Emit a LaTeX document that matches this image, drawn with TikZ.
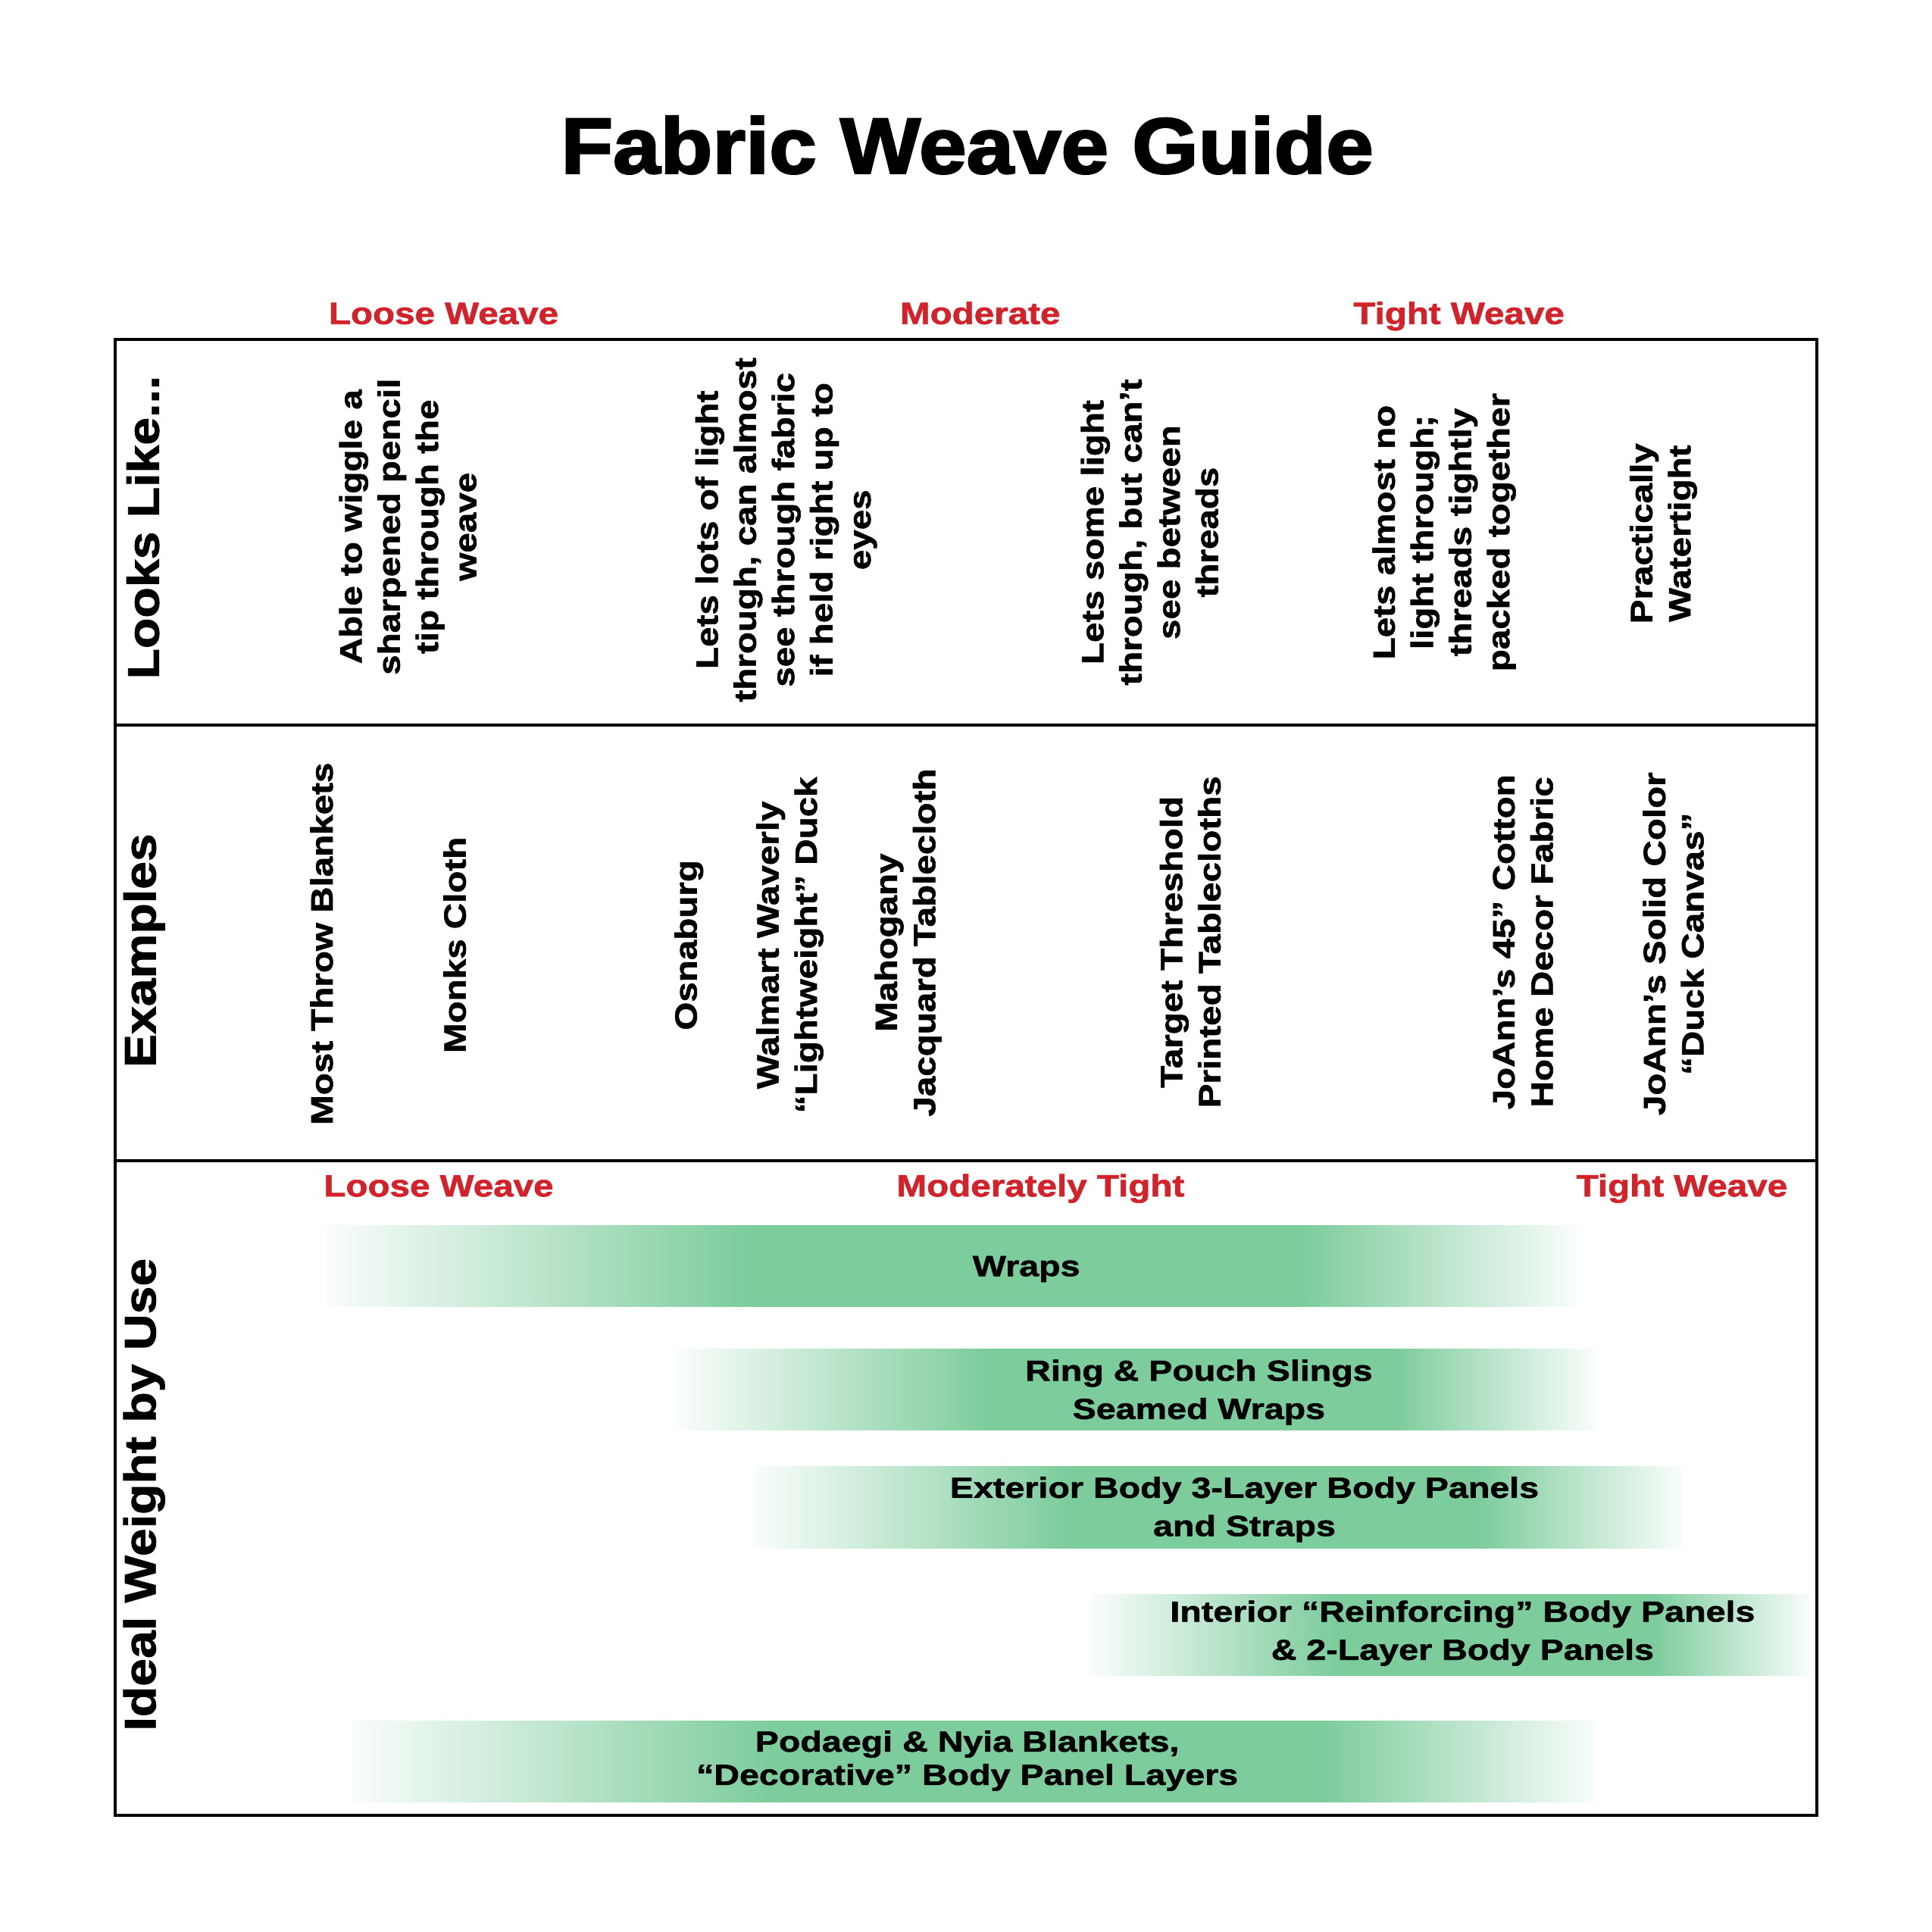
\documentclass[tikz,border=0pt]{standalone}
\usepackage{fontspec}
\setmainfont{Liberation Sans}
\newfontfamily\titlefont{Liberation Sans}[FakeStretch=1.08,FakeBold=2.5]
\newfontfamily\txtfont{Liberation Sans}[FakeStretch=1.17,FakeBold=1.5]
\newfontfamily\rowfont{Liberation Sans}[FakeStretch=1.13,FakeBold=1.5]
\newfontfamily\barfont{Liberation Sans}[FakeStretch=1.22,FakeBold=1.5]
\definecolor{hdrred}{RGB}{211,34,42}
\definecolor{bargreen}{RGB}{124,204,156}
\pgfdeclarehorizontalshading{barfade}{100bp}{color(0bp)=(white); color(25bp)=(bargreen!4); color(42bp)=(bargreen); color(64bp)=(bargreen); color(75bp)=(bargreen!4); color(100bp)=(white)}
\begin{document}
\begin{tikzpicture}[x=1pt,y=-1pt,
  titlest/.style={anchor=base, inner sep=0, font=\titlefont\bfseries\fontsize{64}{70}\selectfont},
  hdr/.style={anchor=base, inner sep=0, text=hdrred, font=\txtfont\bfseries\fontsize{25}{30}\selectfont},
  rot/.style={rotate=90, align=center, inner sep=0, font=\txtfont\bfseries\fontsize{25}{31}\selectfont},
  rowlab/.style={rotate=90, inner sep=0, font=\rowfont\bfseries\fontsize{36}{40}\selectfont},
  barbox/.style={shading=barfade, draw=none, minimum height=66pt, inner sep=0},
  bartxt/.style={align=center, inner sep=0, font=\barfont\bfseries\fontsize{23.5}{31}\selectfont},
  rule/.style={line width=2.5pt}]
\useasboundingbox (0,0) rectangle (1568,1568);
\fill[white] (0,0) rectangle (1568,1568);

% title
\node[titlest] (title) at (785,140.6) {Fabric Weave Guide};

% top headers
\node[hdr] (h1a) at (360,263) {Loose Weave};
\node[hdr] (h1b) at (795.5,263) {Moderate};
\node[hdr] (h1c) at (1184,263) {Tight Weave};

% bars (drawn first)
\node[barbox, minimum width=1015pt] (bar1) at (772.5,1027.4) {};
\node[barbox, minimum width=745pt] (bar2) at (922.5,1127.7) {};
\node[barbox, minimum width=753pt] (bar3) at (988.5,1223.3) {};
\node[barbox, minimum width=585pt] (bar4) at (1177.5,1326.8) {};
\node[barbox, minimum width=1010pt] (bar5) at (790,1429.5) {};

% table frame
\coordinate (tl) at (93.5,275.5);
\coordinate (br) at (1474.5,1473);
\coordinate (d1l) at (93.5,588.5);
\coordinate (d1r) at (1474.5,588.5);
\coordinate (d2l) at (93.5,942);
\coordinate (d2r) at (1474.5,942);
\draw[rule] (tl) rectangle (br);
\draw[rule] (d1l) -- (d1r);
\draw[rule] (d2l) -- (d2r);

% row labels
\node[rowlab] (lab1) at (116,428) {Looks Like...};
\node[rowlab] (lab2) at (117,771.5) {Examples};
\node[rowlab] (lab3) at (117,1213) {Ideal Weight by Use};

% row 1
\node[rot] (l1) at (331,427.5) {Able to wiggle a\\sharpened pencil\\tip through the\\weave};
\node[rot] (l2) at (638,430) {Lets lots of light\\through, can almost\\see through fabric\\if held right up to\\eyes};
\node[rot] (l3) at (933,432) {Lets some light\\through, but can’t\\see between\\threads};
\node[rot] (l4) at (1172,432) {Lets almost no\\light through;\\threads tightly\\packed together};
\node[rot] (l5) at (1350,433) {Practically\\Watertight};

% row 2
\node[rot] (e1) at (261,766) {Most Throw Blankets};
\node[rot] (e2) at (369,767) {Monks Cloth};
\node[rot] (e3) at (559,767) {Osnaburg};
\node[rot] (e4) at (641,767) {Walmart Waverly\\“Lightweight” Duck};
\node[rot] (e5) at (737,765) {Mahogany\\Jacquard Tablecloth};
\node[rot] (e6) at (966,764.5) {Target Threshold\\Printed Tablecloths};
\node[rot] (e7) at (1236,764.5) {JoAnn’s 45” Cotton\\Home Decor Fabric};
\node[rot] (e8) at (1358,766) {JoAnn’s Solid Color\\“Duck Canvas”};

% row 3 headers
\node[hdr] (h3a) at (356,971) {Loose Weave};
\node[hdr] (h3b) at (844.5,971) {Moderately Tight};
\node[hdr] (h3c) at (1365,971) {Tight Weave};

% bar texts
\node[bartxt] (t1) at (833,1030) {Wraps};
\node[bartxt] (t2) at (973,1130) {Ring \& Pouch Slings\\Seamed Wraps};
\node[bartxt] (t3) at (1010,1225) {Exterior Body 3-Layer Body Panels\\and Straps};
\node[bartxt] (t4) at (1187,1325.5) {Interior “Reinforcing” Body Panels\\\& 2-Layer Body Panels};
\node[bartxt, font=\barfont\bfseries\fontsize{23.5}{27}\selectfont] (t5) at (785,1429) {Podaegi \& Nyia Blankets,\\“Decorative” Body Panel Layers};
\end{tikzpicture}
\end{document}
